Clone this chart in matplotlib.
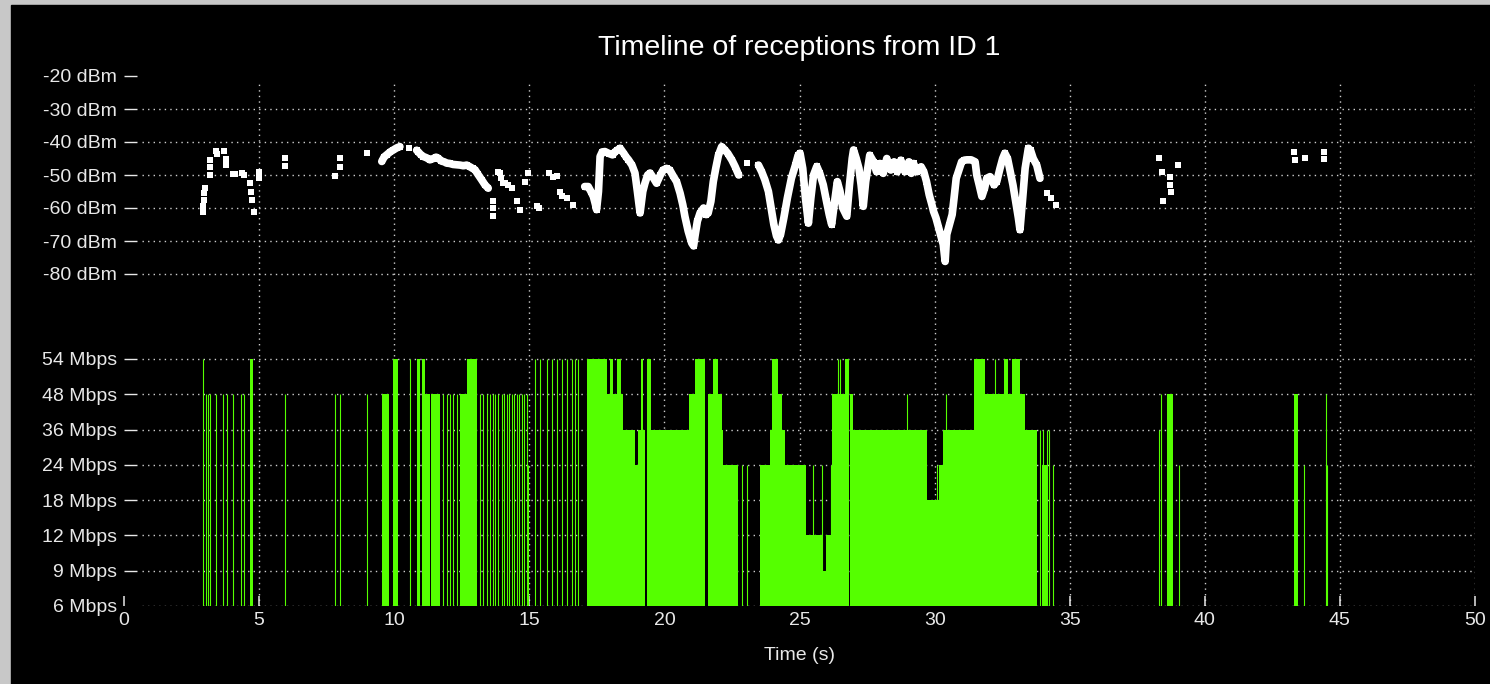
#!/usr/bin/env python3
"""
plot.py - timeline of receptions (RSSI dots on top, PHY rate bars below).

Output: out.png
"""

import numpy as np
import matplotlib
matplotlib.use("Agg")
import matplotlib.pyplot as plt
from matplotlib.patches import Rectangle

TITLE = "Timeline of receptions from ID 1"
X_LABEL = "Time (s)"
X_TICKS = [0, 5, 10, 15, 20, 25, 30, 35, 40, 45, 50]
DBM_TICKS = [-20, -30, -40, -50, -60, -70, -80]
RATE_LEVELS = [6, 9, 12, 18, 24, 36, 48, 54]

# RSSI of each received frame (s, dBm)
rssi_time = [
    2.94, 2.94, 2.96, 2.96, 2.98, 3.18, 3.18, 3.20, 3.40, 3.46, 3.70, 3.76, 3.78,
    4.02, 4.12, 4.35, 4.45, 4.66, 4.69, 4.72, 4.81, 4.98, 5.00, 5.96, 5.96,
    7.81, 7.99, 7.99, 8.98,
    9.54, 9.63, 9.72, 9.85, 9.97, 10.09, 10.21, 10.56, 10.83, 10.89, 10.98,
    11.08, 11.20, 11.32, 11.45, 11.55, 11.63, 11.75, 11.85, 11.94, 12.05, 12.18,
    12.31, 12.44, 12.56, 12.68, 12.80, 12.90, 12.99, 13.10, 13.24, 13.36, 13.48,
    13.67, 13.67, 13.67, 13.85, 13.92, 13.95, 14.02, 14.10, 14.22, 14.35, 14.53,
    14.66, 14.84, 14.96, 15.27, 15.35, 15.72, 15.86, 16.01, 16.14, 16.20, 16.38,
    16.63,
    17.05, 17.18, 17.28, 17.37, 17.45, 17.49, 17.56, 17.60, 17.62, 17.70, 17.80,
    17.95, 18.08, 18.17, 18.25, 18.36, 18.50, 18.58, 18.67, 18.80, 18.91, 19.00,
    19.10, 19.20, 19.28, 19.38, 19.47, 19.60, 19.71, 19.85, 19.95, 20.08, 20.20,
    20.33, 20.45, 20.58, 20.68, 20.76, 20.88, 21.01, 21.08, 21.13, 21.22, 21.32,
    21.45, 21.55, 21.62, 21.72, 21.81, 21.90, 22.00, 22.12, 22.25, 22.35, 22.50,
    22.62, 22.75, 23.05, 23.48, 23.60, 23.72, 23.85, 23.95, 24.05, 24.15, 24.22,
    24.30, 24.42, 24.55, 24.70, 24.85, 24.95, 25.02, 25.12, 25.22, 25.33, 25.42,
    25.52, 25.64, 25.75, 25.88, 26.00, 26.10, 26.19, 26.30, 26.40, 26.50, 26.60,
    26.75, 26.85, 26.95, 27.00, 27.10, 27.20, 27.28, 27.36, 27.45, 27.60, 27.74,
    27.85, 27.98, 28.10, 28.23, 28.38, 28.50, 28.62, 28.75, 28.90, 29.05, 29.14,
    29.22, 29.35, 29.50, 29.60, 29.70, 29.80, 29.90, 29.96, 30.05, 30.15, 30.25,
    30.32, 30.39, 30.45, 30.55, 30.65, 30.72, 30.80, 30.90, 31.00, 31.10, 31.20,
    31.35, 31.50, 31.56, 31.65, 31.75, 31.85, 31.93, 32.05, 32.20, 32.30, 32.42,
    32.52, 32.60, 32.70, 32.80, 32.90, 33.00, 33.10, 33.16, 33.25, 33.35, 33.47,
    33.55, 33.65, 33.78, 33.90, 34.15, 34.30, 34.48,
    38.30, 38.40, 38.46, 38.70, 38.72, 38.75, 39.00, 43.30, 43.32, 43.70, 44.40,
    44.42,
]
rssi_dbm = [
    -61.2, -59.5, -57.5, -55.5, -53.8, -50.0, -47.5, -45.5, -42.6, -43.5, -42.8, -45.0, -47.0,
    -49.8, -49.8, -49.5, -50.0, -52.5, -55.0, -57.5, -61.2, -51.0, -49.0, -44.8, -47.2,
    -50.2, -44.8, -47.5, -43.2,
    -45.9, -44.5, -43.9, -43.0, -42.4, -41.8, -41.4, -41.9, -42.5, -43.0, -43.8,
    -44.4, -44.8, -45.4, -45.0, -44.6, -44.9, -45.8, -46.0, -46.4, -46.5, -46.8,
    -46.9, -47.0, -47.2, -47.0, -47.5, -48.0, -48.4, -49.8, -51.5, -53.0, -54.0,
    -58.0, -60.0, -62.5, -49.0, -49.4, -51.0, -52.5, -52.5, -53.0, -54.0, -58.0,
    -60.5, -52.0, -49.4, -59.5, -60.0, -49.5, -50.5, -50.4, -55.0, -56.5, -57.0,
    -59.0,
    -53.5, -53.5, -55.0, -56.5, -59.0, -60.5, -55.0, -48.0, -44.4, -43.0, -42.9,
    -43.5, -43.9, -43.0, -42.5, -41.9, -43.5, -44.5, -45.4, -47.0, -49.4, -55.0,
    -61.5, -55.0, -52.5, -50.0, -49.4, -51.0, -52.5, -50.0, -48.5, -48.0, -48.5,
    -50.4, -52.0, -55.5, -59.0, -62.6, -67.0, -70.6, -71.5, -68.6, -64.0, -61.5,
    -60.0, -62.0, -61.5, -58.0, -52.0, -48.0, -44.0, -41.4, -42.5, -43.5, -45.5,
    -47.5, -50.0, -46.4, -47.0, -49.0, -51.5, -55.0, -60.0, -65.0, -68.5, -69.7,
    -68.0, -63.0, -57.0, -51.0, -47.0, -44.0, -43.4, -48.0, -57.0, -64.6, -57.0,
    -50.0, -47.4, -49.5, -53.0, -58.0, -62.0, -65.0, -58.0, -52.0, -55.0, -60.0,
    -62.5, -53.0, -45.0, -42.4, -45.0, -48.0, -53.0, -59.5, -52.0, -44.0, -46.0,
    -49.0, -46.5, -49.5, -45.0, -48.5, -46.0, -49.0, -45.5, -49.0, -46.0, -49.5,
    -46.5, -49.0, -47.5, -49.0, -52.0, -56.0, -59.0, -61.0, -63.0, -66.0, -69.0,
    -71.0, -76.2, -68.0, -65.0, -62.0, -57.0, -51.0, -48.5, -46.0, -45.5, -45.4,
    -45.4, -46.0, -50.0, -53.0, -56.5, -54.0, -51.0, -50.5, -53.0, -52.0, -48.0,
    -45.0, -43.4, -45.0, -49.0, -53.0, -58.0, -63.0, -66.6, -58.0, -48.0, -41.9,
    -42.5, -45.0, -47.0, -51.0, -55.5, -57.0, -59.0,
    -44.9, -49.0, -58.0, -50.5, -53.0, -55.0, -47.0, -43.0, -45.5, -44.9, -43.0,
    -45.0,
]

# runs of back-to-back frames sent at one rate (s, s, Mbps)
burst_start = [
    4.67, 9.54, 9.97, 10.83, 11.03, 11.14, 11.38, 12.45, 12.68, 17.12, 17.86,
    17.99, 18.10, 18.26, 18.40, 18.48, 18.91, 19.03, 19.12, 19.22, 19.34, 19.49,
    20.92, 21.13, 21.60, 21.80, 22.00, 22.12, 22.18, 23.52, 23.91, 23.97, 24.00,
    24.22, 24.34, 24.47, 25.24, 25.87, 25.98, 26.22, 26.68, 26.87, 26.98, 29.71,
    30.18, 30.30, 31.44, 31.87, 32.55, 32.72, 32.85, 33.16, 33.35, 33.97, 38.59,
    43.31,
]
burst_end = [
    4.77, 9.80, 10.15, 10.95, 11.14, 11.32, 11.70, 12.68, 13.08, 17.86, 17.99,
    18.10, 18.26, 18.40, 18.48, 18.91, 19.03, 19.12, 19.22, 19.28, 19.49, 20.92,
    21.13, 21.50, 21.80, 22.00, 22.12, 22.18, 22.74, 23.91, 23.97, 24.00, 24.22,
    24.34, 24.47, 25.24, 25.87, 25.98, 26.22, 26.68, 26.83, 26.98, 29.71, 30.18,
    30.30, 31.44, 31.87, 32.55, 32.72, 32.85, 33.16, 33.35, 33.78, 34.20, 38.83,
    43.46,
]
burst_rate = [
    54, 48, 54, 54, 54, 48, 48, 48, 54, 54, 48,
    54, 48, 54, 48, 36, 24, 36, 54, 36, 54, 36,
    48, 54, 48, 54, 48, 36, 24, 24, 36, 48, 54,
    48, 36, 24, 12, 9, 12, 48, 54, 48, 36, 18,
    24, 36, 54, 48, 54, 48, 54, 48, 36, 24, 48,
    48,
]

# isolated frames (s, Mbps)
frame_time = [
    2.94, 3.03, 3.10, 3.18, 3.40, 3.66, 3.81, 4.05, 4.32, 4.45, 5.96, 7.81, 7.99,
    8.98, 10.58, 11.82, 11.94, 12.07, 12.19, 12.31, 12.43, 13.18, 13.30, 13.42,
    13.55, 13.64, 13.73, 13.85, 13.98, 14.07, 14.16, 14.26, 14.35, 14.44, 14.53,
    14.62, 14.72, 14.81, 14.90, 14.94, 15.21, 15.40, 15.64, 15.83, 16.01, 16.20,
    16.38, 16.57, 16.69, 16.80, 22.86, 23.05, 25.51, 25.82, 26.18, 26.43, 26.50,
    28.99, 30.10, 30.43, 32.24, 33.90, 34.00, 34.08, 34.15, 34.24, 34.40, 38.32,
    38.38, 39.04, 43.68, 44.48, 44.51,
]
frame_rate = [
    54, 48, 48, 48, 48, 48, 48, 48, 48, 48, 48, 48, 48,
    48, 54, 48, 48, 48, 48, 48, 48, 48, 48, 48,
    48, 48, 48, 48, 48, 48, 48, 48, 48, 48, 48,
    48, 48, 48, 48, 24, 54, 54, 54, 54, 54, 54,
    54, 54, 54, 54, 24, 24, 24, 24, 24, 54, 54,
    48, 24, 48, 54, 36, 36, 24, 36, 36, 24, 36,
    48, 24, 24, 48, 24,
]

BG = "#c8c8c8"
GREEN = "#55ff00"
GRID = "#cdcdcd"
TXT = "#e8e8e8"
# stretches where the RSSI samples are dense enough to read as one trace
TRACE_SPANS = [(9.5, 13.5), (17.0, 34.0)]


def _grid(ax, xs, ys, x0, x1, y0, y1):
    kw = dict(color=GRID, lw=1.0, ls=(0, (1, 3)), zorder=1)
    ax.hlines(ys, x0, x1, **kw)
    ax.vlines(xs, y0, y1, **kw)


def main() -> None:
    plt.rcParams["font.family"] = ["Liberation Sans", "DejaVu Sans"]

    W, H = 1490, 684
    fig = plt.figure(figsize=(W / 100, H / 100), dpi=100)
    fig.patch.set_facecolor(BG)
    fig.add_artist(Rectangle((11 / W, 0), 1 - 11 / W, 1 - 5 / H,
                             transform=fig.transFigure, color="black", zorder=0))

    left, width = 124 / W, 1351 / W
    ax_top = fig.add_axes([left, 1 - 330 / H, width, 260 / H])
    ax_bot = fig.add_axes([left, 1 - 606 / H, width, 276 / H])

    px_per_db = 3.3
    top_lim = (-80 - (330 - 274) / px_per_db, -20 + (76 - 70) / px_per_db)
    px_per_rate = 35.29
    bot_lim = (0, 276 / px_per_rate)

    for ax in (ax_top, ax_bot):
        ax.set_facecolor("none")
        ax.set_xlim(0, 50)
        for s in ax.spines.values():
            s.set_visible(False)
        ax.tick_params(axis="y", direction="in", length=9.5, width=1.0,
                       color=TXT, labelcolor=TXT, labelsize=14, pad=5)

    # --- RSSI ---
    t = np.asarray(rssi_time)
    d = np.asarray(rssi_dbm)
    in_span = np.zeros(len(t), dtype=bool)
    for a, b in TRACE_SPANS:
        in_span |= (t >= a) & (t <= b)
    link = (np.diff(t) <= 0.16) & in_span[1:] & in_span[:-1]
    seg_start = 0
    for i in range(1, len(t) + 1):
        if i == len(t) or not link[i - 1]:
            if i - seg_start > 1:
                ax_top.plot(t[seg_start:i], d[seg_start:i], color="white",
                            lw=5.5, solid_capstyle="round", solid_joinstyle="round",
                            zorder=3)
            seg_start = i
    ax_top.scatter(t, d, marker="s", s=18, color="white", linewidths=0, zorder=3)

    ax_top.set_ylim(*top_lim)
    ax_top.set_yticks(DBM_TICKS)
    ax_top.set_yticklabels([f"{v} dBm" for v in DBM_TICKS])
    ax_top.set_xticks([])
    _grid(ax_top, X_TICKS[1:], DBM_TICKS[1:], 0.65, 50, top_lim[0], -21.2)

    # --- PHY rate ---
    level = {r: i for i, r in enumerate(RATE_LEVELS)}
    bs = np.asarray(burst_start)
    be = np.asarray(burst_end)
    ax_bot.bar(bs, [level[r] for r in burst_rate], width=be - bs, align="edge",
               color=GREEN, linewidth=0, zorder=2)
    ax_bot.vlines(frame_time, 0, [level[r] for r in frame_rate], color=GREEN,
                  lw=0.8, zorder=2)

    ax_bot.set_ylim(*bot_lim)
    ax_bot.set_yticks(range(len(RATE_LEVELS)))
    ax_bot.set_yticklabels([f"{r} Mbps" for r in RATE_LEVELS])
    ax_bot.yaxis.get_major_ticks()[0].tick1line.set_visible(False)
    ax_bot.set_xticks(X_TICKS)
    ax_bot.tick_params(axis="x", direction="in", length=7.5, width=1.1,
                       color=TXT, labelcolor=TXT, labelsize=14, pad=4)
    ax_bot.set_xlabel(X_LABEL, color=TXT, fontsize=14, labelpad=13)
    _grid(ax_bot, X_TICKS[1:], range(len(RATE_LEVELS)), 0.65, 50, 0, bot_lim[1])

    fig.text(0.5 * (124 + 1475) / W, 1 - 48 / H, TITLE, color="white",
             fontsize=20.5, ha="center", va="center")

    fig.savefig("out.png", dpi=100, facecolor=fig.get_facecolor())
    plt.close(fig)


if __name__ == "__main__":
    main()
